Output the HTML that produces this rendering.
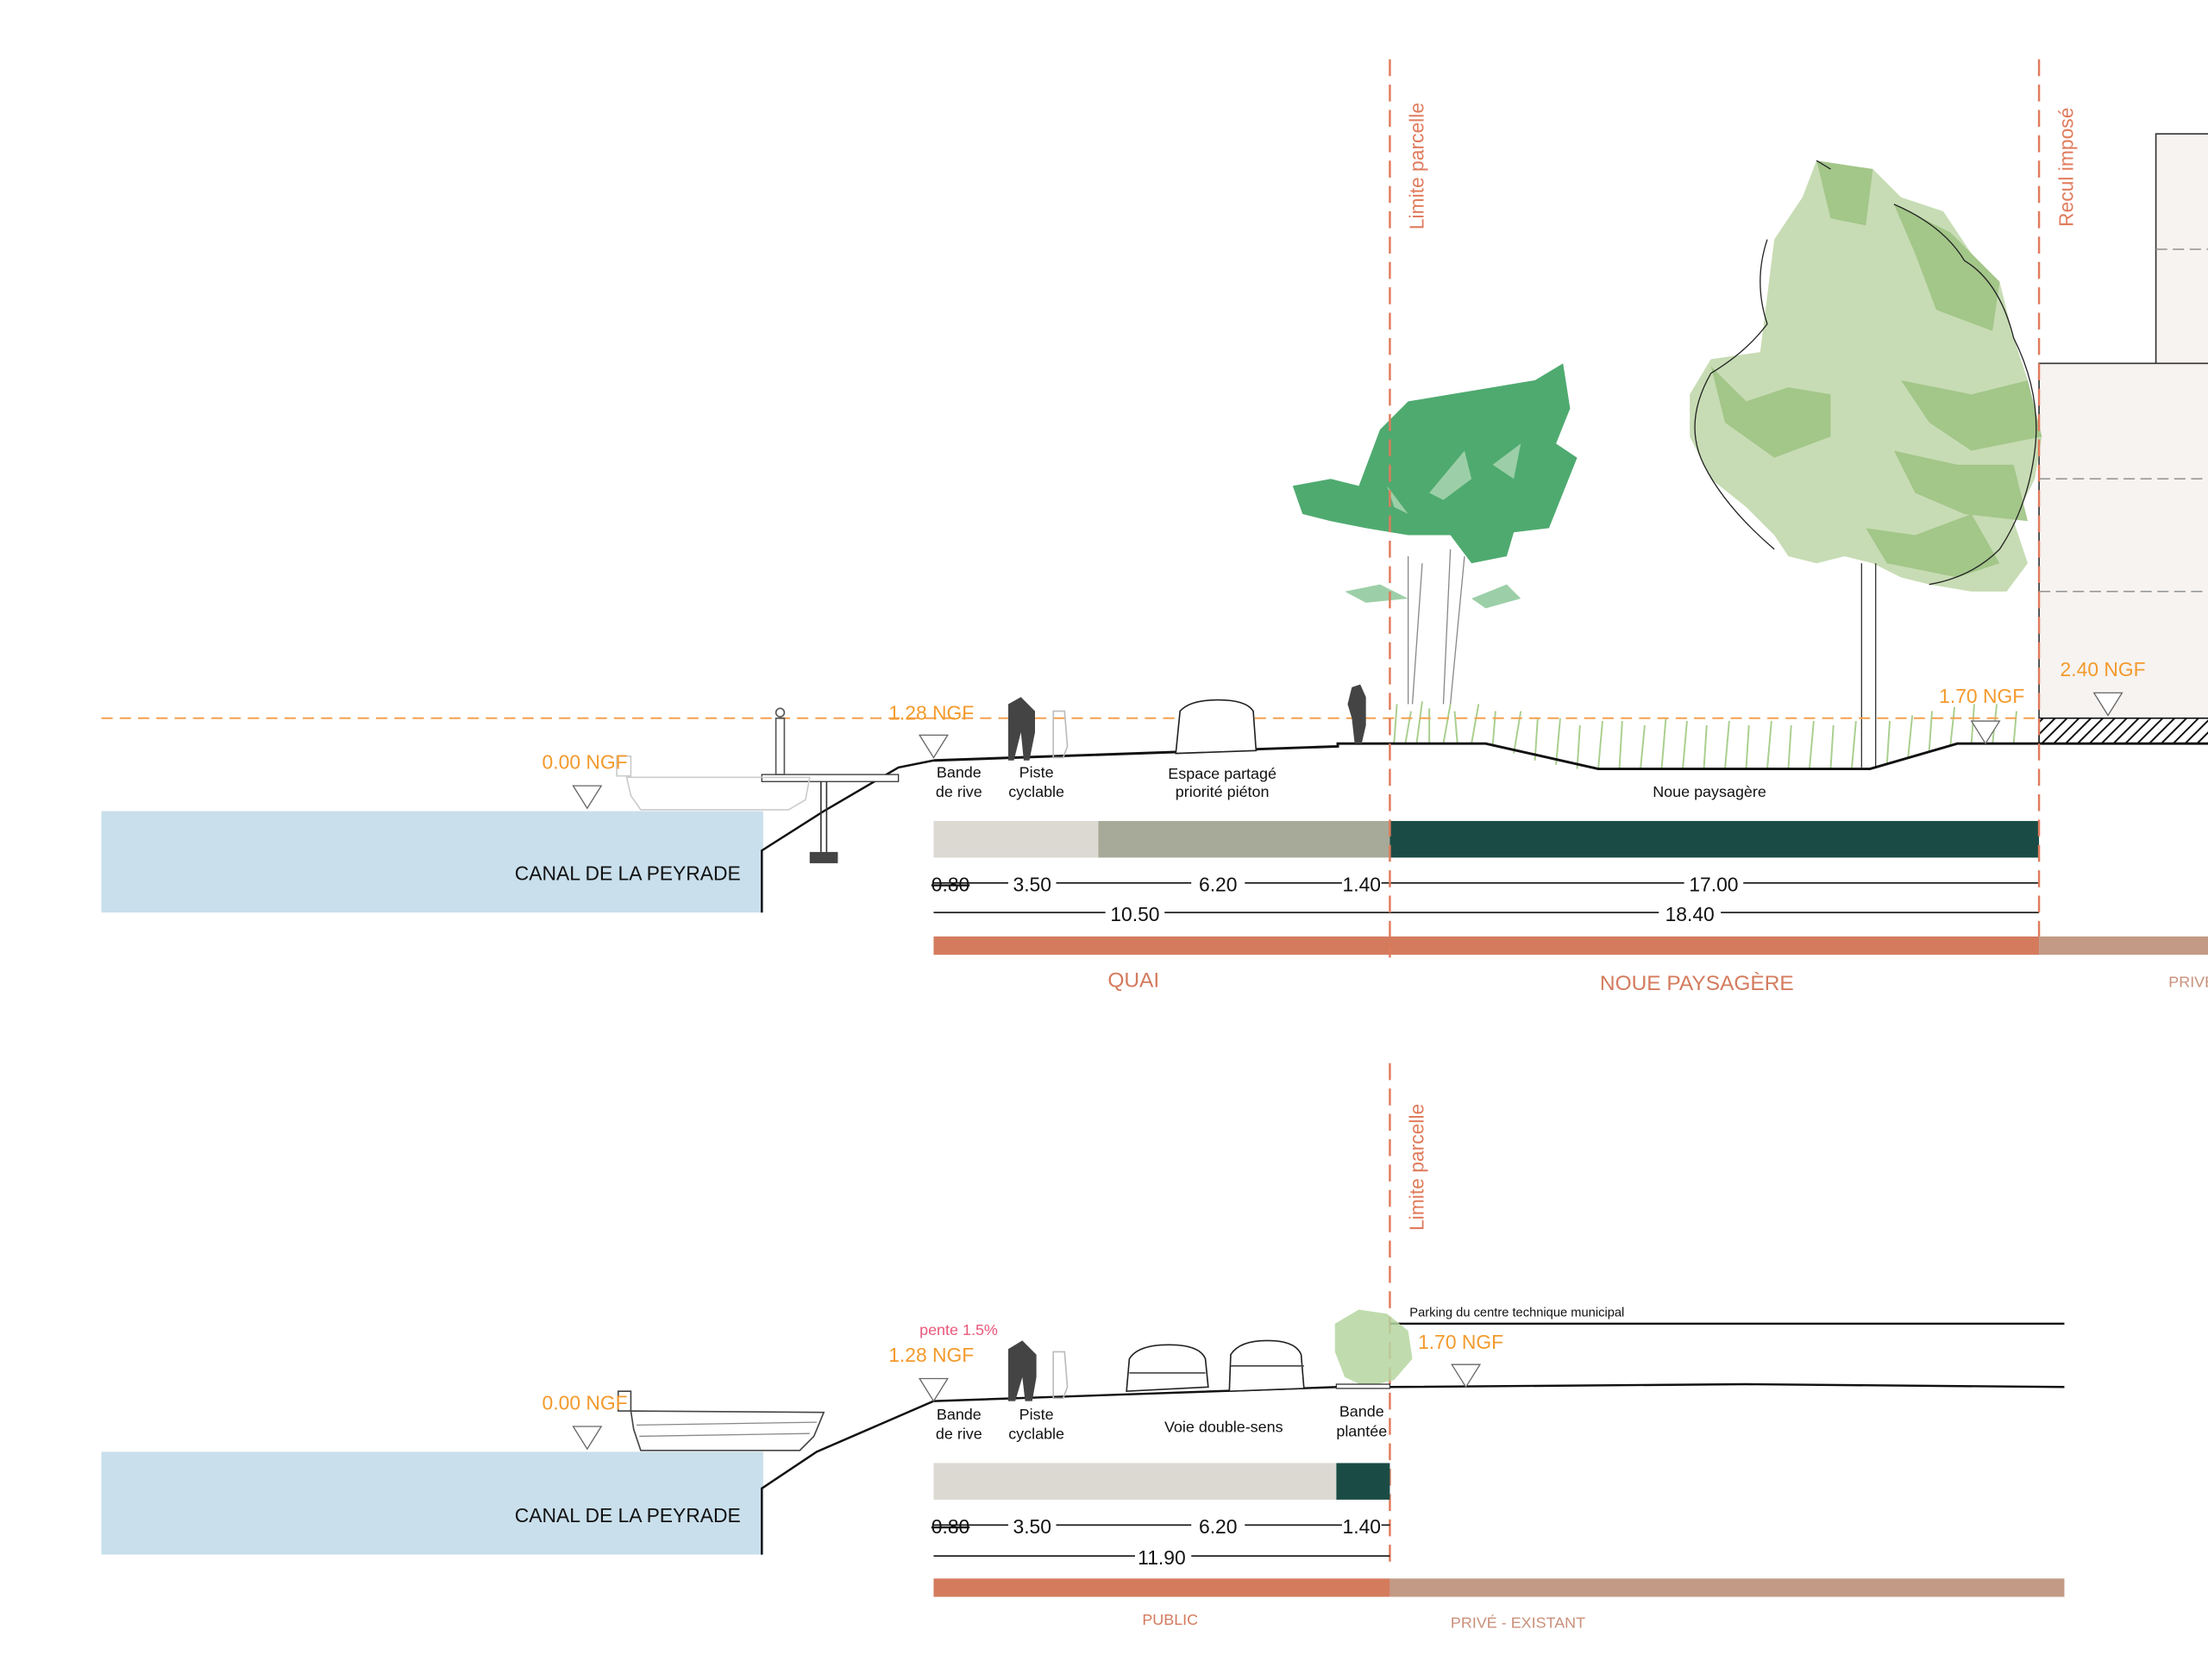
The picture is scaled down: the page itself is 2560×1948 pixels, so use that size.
<!DOCTYPE html>
<html><head><meta charset="utf-8"><style>
html,body{margin:0;padding:0;background:#fff;}
svg{display:block;}
text{font-family:"Liberation Sans",Arial,sans-serif;}
</style></head><body>
<svg width="2560" height="1948" viewBox="0 0 1568 1193" xmlns="http://www.w3.org/2000/svg">
<defs>
<pattern id="hatch" width="6" height="6" patternUnits="userSpaceOnUse" patternTransform="rotate(45)">
<rect width="6" height="6" fill="#fff"/><line x1="0" y1="0" x2="0" y2="6" stroke="#111" stroke-width="2.4"/>
</pattern>
</defs>
<rect width="1568" height="1193" fill="#fff"/>

<!-- ============ TOP SECTION ============ -->
<rect x="1531" y="95" width="40" height="164" fill="#f6f3f1" stroke="#333" stroke-width="1"/>
<rect x="1448" y="258" width="125" height="252" fill="#f6f3f1" stroke="#333" stroke-width="1"/>
<g stroke="#999" stroke-width="1" stroke-dasharray="8,4">
<line x1="1531" y1="177" x2="1568" y2="177"/>
<line x1="1448" y1="340" x2="1568" y2="340"/>
<line x1="1448" y1="420" x2="1568" y2="420"/>
</g>
<rect x="1448" y="510" width="125" height="18" fill="url(#hatch)" stroke="#111" stroke-width="1"/>

<!-- big tree -->
<path d="M1290,114 L1330,120 L1350,140 L1380,150 L1400,180 L1420,200 L1430,240 L1440,270 L1450,310 L1445,340 L1430,370 L1440,400 L1425,420 L1400,420 L1370,415 L1350,410 L1330,400 L1310,395 L1290,400 L1270,395 L1260,380 L1240,360 L1215,340 L1200,310 L1200,280 L1215,255 L1250,250 L1255,210 L1260,170 L1280,140 Z" fill="#c7dcb4"/>
<path d="M1290,114 L1330,120 L1325,160 L1300,155 Z M1345,145 L1385,165 L1420,200 L1415,235 L1375,220 L1360,180 Z M1215,260 L1240,285 L1270,275 L1300,280 L1300,310 L1260,325 L1225,300 Z M1350,270 L1400,280 L1440,270 L1450,310 L1400,320 L1370,300 Z M1345,320 L1390,330 L1430,330 L1440,370 L1395,365 L1360,350 Z M1325,375 L1360,380 L1400,365 L1420,400 L1390,410 L1340,400 Z" fill="#9fc384" opacity="0.9"/>
<path d="M1290,114 L1300,120 M1255,170 Q1245,200 1255,230 Q1240,250 1215,265 Q1195,300 1210,330 Q1225,360 1260,390 M1345,145 Q1380,160 1395,185 Q1420,200 1430,240 Q1450,280 1445,320 Q1440,360 1420,390 Q1400,410 1370,415" fill="none" stroke="#222" stroke-width="0.8"/>
<path d="M1322,400 L1322,545 M1332,400 L1332,545" stroke="#333" stroke-width="0.8" fill="none"/>

<!-- small tree -->
<path d="M918,345 L945,340 L965,345 L980,305 L1000,285 L1030,280 L1060,275 L1090,270 L1110,258 L1115,290 L1105,315 L1120,325 L1110,350 L1100,375 L1075,378 L1070,395 L1045,400 L1030,380 L1000,380 L970,375 L945,370 L925,365 Z" fill="#4faa70"/>
<path d="M1015,350 L1040,320 L1045,340 L1025,355 Z M1060,330 L1080,315 L1075,340 Z M985,345 L1000,365 L990,360 Z M955,420 L980,415 L1000,425 L970,428 Z M1045,425 L1070,415 L1080,425 L1055,432 Z" fill="#9ccfa7"/>
<path d="M1000,395 L1000,500 M1010,400 L1003,500 M1030,390 L1025,500 M1040,395 L1030,500" stroke="#888" stroke-width="0.8" fill="none"/>
<path d="M990,528 L992,500 M998,528 L1002,505 M1006,528 L1010,498 M1015,528 L1015,503 M1025,528 L1030,500 M1035,528 L1033,505 M1045,528 L1050,500 M1060,530 L1062,505 M1075,535 L1080,505 M1090,540 L1092,510 M1105,543 L1108,510 M1120,546 L1122,515 M1135,546 L1138,512 M1150,546 L1152,512 M1165,546 L1168,515 M1180,546 L1183,510 M1195,546 L1198,512 M1210,546 L1212,515 M1225,546 L1228,512 M1240,546 L1242,515 M1255,546 L1258,512 M1270,546 L1272,515 M1285,546 L1288,512 M1300,546 L1302,515 M1315,546 L1318,512 M1340,543 L1342,512 M1355,538 L1358,508 M1370,533 L1372,505 M1385,530 L1388,502 M1400,528 L1402,500 M1415,528 L1418,500 M1430,528 L1432,505" stroke="#a9cf8e" stroke-width="1.2" fill="none"/>

<line x1="72" y1="510" x2="1448" y2="510" stroke="#f5a04f" stroke-width="1.2" stroke-dasharray="8,5"/>

<rect x="72" y="576" width="470" height="72" fill="#c9dfec"/>
<text x="526" y="625" font-size="14" fill="#111" text-anchor="end">CANAL DE LA PEYRADE</text>
<polyline points="541,648 541,604 585,576 638,545 663,540" fill="none" stroke="#111" stroke-width="1.5"/>
<polyline points="663,540 950,530 950,528 962,528 962,528 1055,528 1135,546 1328,546 1390,528 1448,528 1568,528" fill="none" stroke="#111" stroke-width="1.8"/>
<rect x="541" y="550" width="97" height="5" fill="#fff" stroke="#333" stroke-width="0.8"/>
<line x1="583" y1="555" x2="583" y2="605" stroke="#333"/><line x1="587" y1="555" x2="587" y2="605" stroke="#333"/>
<rect x="575" y="605" width="20" height="8" fill="#444"/>
<path d="M445,552 L575,552 L572,568 L560,575 L455,575 L448,565 Z" fill="none" stroke="#ccc" stroke-width="1"/>
<rect x="438" y="537" width="10" height="14" fill="none" stroke="#ccc"/>
<rect x="551" y="510" width="6" height="40" fill="none" stroke="#555" stroke-width="1"/>
<circle cx="554" cy="506" r="3" fill="none" stroke="#555"/>
<path d="M716,500 L725,495 L735,505 L735,520 L731,540 L727,540 L725,520 L720,540 L716,540 L716,515 Z" fill="#444"/>
<path d="M748,505 L756,505 L758,530 L755,538 L748,538 Z" fill="none" stroke="#bbb"/>
<path d="M835,535 L838,505 Q845,497 865,497 Q885,497 890,505 L892,533 Z" fill="#fff" stroke="#222" stroke-width="1"/>
<path d="M960,488 L966,486 L970,495 L970,515 L967,528 L962,528 L960,510 L957,500 Z" fill="#444"/>

<g fill="#f39a2c" font-size="14">
<text x="385" y="546">0.00 NGF</text>
<text x="631" y="511">1.28 NGF</text>
<text x="1377" y="499">1.70 NGF</text>
<text x="1463" y="480">2.40 NGF</text>
</g>
<g fill="#fff" stroke="#666" stroke-width="0.8">
<path d="M407,558 L427,558 L417,574 Z"/>
<path d="M653,522 L673,522 L663,538 Z"/>
<path d="M1400,512 L1420,512 L1410,528 Z"/>
<path d="M1487,492 L1507,492 L1497,508 Z"/>
</g>

<g font-size="11" fill="#111" text-anchor="middle">
<text x="681" y="552">Bande</text><text x="681" y="566">de rive</text>
<text x="736" y="552">Piste</text><text x="736" y="566">cyclable</text>
<text x="868" y="553">Espace partagé</text><text x="868" y="566">priorité piéton</text>
<text x="1214" y="566">Noue paysagère</text>
</g>

<rect x="663" y="583" width="117" height="26" fill="#dcd9d3"/>
<rect x="780" y="583" width="207" height="26" fill="#a7aa98"/>
<rect x="987" y="583" width="461" height="26" fill="#1a4c45"/>

<g stroke="#111" stroke-width="1">
<line x1="663" y1="627" x2="1448" y2="627"/>
<line x1="663" y1="648" x2="1448" y2="648"/>
</g>
<g fill="#fff">
<rect x="716" y="619" width="34" height="16"/><rect x="846" y="619" width="38" height="16"/><rect x="953" y="619" width="28" height="16"/><rect x="1196" y="619" width="42" height="16"/>
<rect x="785" y="640" width="42" height="16"/><rect x="1178" y="640" width="44" height="16"/>
</g>
<g font-size="14" fill="#111" text-anchor="middle">
<text x="675" y="633" style="text-decoration:line-through">0.80</text>
<text x="733" y="633">3.50</text><text x="865" y="633">6.20</text><text x="967" y="633">1.40</text><text x="1217" y="633">17.00</text>
<text x="806" y="654">10.50</text><text x="1200" y="654">18.40</text>
</g>

<rect x="663" y="665" width="785" height="13" fill="#d47b5e"/>
<rect x="1448" y="665" width="125" height="13" fill="#c29a85"/>
<g fill="#d47b5e" font-size="15" text-anchor="middle">
<text x="805" y="701">QUAI</text>
<text x="1205" y="703">NOUE PAYSAGÈRE</text>
</g>
<text x="1540" y="701" fill="#c9907a" font-size="11">PRIVÉ</text>

<g stroke="#e07b5c" stroke-width="1.5" stroke-dasharray="12,6">
<line x1="987" y1="42" x2="987" y2="680"/>
<line x1="1448" y1="42" x2="1448" y2="665"/>
<line x1="987" y1="755" x2="987" y2="1115"/>
</g>
<g fill="#e07b5c" font-size="14">
<text transform="translate(1011,163) rotate(-90)">Limite parcelle</text>
<text transform="translate(1472,161) rotate(-90)">Recul imposé</text>
<text transform="translate(1011,874) rotate(-90)">Limite parcelle</text>
</g>

<!-- ============ BOTTOM SECTION ============ -->
<rect x="72" y="1031" width="470" height="73" fill="#c9dfec"/>
<text x="526" y="1081" font-size="14" fill="#111" text-anchor="end">CANAL DE LA PEYRADE</text>
<polyline points="541,1104 541,1057 580,1031 663,995 950,985 987,985 1240,983 1466,985" fill="none" stroke="#111" stroke-width="1.5"/>
<line x1="987" y1="940" x2="1466" y2="940" stroke="#111" stroke-width="1.5"/>
<path d="M448,1002 L585,1003 L578,1020 L568,1030 L455,1030 L450,1015 Z" fill="#fff" stroke="#444" stroke-width="1"/>
<path d="M452,1012 L580,1010 M454,1020 L575,1018" stroke="#888" stroke-width="0.8"/>
<rect x="439" y="988" width="9" height="14" fill="none" stroke="#444"/>
<path d="M716,958 L726,952 L736,962 L736,978 L733,995 L728,995 L726,978 L721,995 L716,995 L716,972 Z" fill="#444"/>
<path d="M748,960 L756,960 L758,985 L755,993 L748,993 Z" fill="none" stroke="#bbb"/>
<path d="M800,988 L802,965 Q808,955 830,955 Q852,955 856,965 L858,985 Z" fill="#fff" stroke="#222"/>
<path d="M802,975 L856,975" stroke="#444"/>
<path d="M873,988 L874,962 Q880,952 900,952 Q920,952 924,962 L926,986 Z" fill="#fff" stroke="#222"/>
<path d="M874,970 L926,970" stroke="#444"/>
<path d="M948,940 L965,930 L985,933 L1000,945 L1003,965 L990,980 L970,985 L955,978 L948,960 Z" fill="#b5d6a0" opacity="0.85"/>
<rect x="949" y="983" width="38" height="3" fill="#fff" stroke="#333" stroke-width="0.8"/>

<text x="1001" y="935" font-size="9" fill="#111">Parking du centre technique municipal</text>
<text x="653" y="948" font-size="11" fill="#e9587a">pente 1.5%</text>
<g fill="#f39a2c" font-size="14">
<text x="385" y="1001">0.00 NGF</text>
<text x="631" y="967">1.28 NGF</text>
<text x="1007" y="958">1.70 NGF</text>
</g>
<g fill="#fff" stroke="#666" stroke-width="0.8">
<path d="M407,1013 L427,1013 L417,1029 Z"/>
<path d="M653,979 L673,979 L663,995 Z"/>
<path d="M1031,969 L1051,969 L1041,985 Z"/>
</g>
<g font-size="11" fill="#111" text-anchor="middle">
<text x="681" y="1008">Bande</text><text x="681" y="1022">de rive</text>
<text x="736" y="1008">Piste</text><text x="736" y="1022">cyclable</text>
<text x="869" y="1017">Voie double-sens</text>
<text x="967" y="1006">Bande</text><text x="967" y="1020">plantée</text>
</g>
<rect x="663" y="1039" width="286" height="26" fill="#dcd9d3"/>
<rect x="949" y="1039" width="38" height="26" fill="#1a4c45"/>
<g stroke="#111" stroke-width="1">
<line x1="663" y1="1083" x2="987" y2="1083"/>
<line x1="663" y1="1105" x2="987" y2="1105"/>
</g>
<g fill="#fff">
<rect x="716" y="1075" width="34" height="16"/><rect x="846" y="1075" width="38" height="16"/><rect x="953" y="1075" width="28" height="16"/>
<rect x="806" y="1097" width="40" height="16"/>
</g>
<g font-size="14" fill="#111" text-anchor="middle">
<text x="675" y="1089" style="text-decoration:line-through">0.80</text>
<text x="733" y="1089">3.50</text><text x="865" y="1089">6.20</text><text x="967" y="1089">1.40</text>
<text x="825" y="1111">11.90</text>
</g>
<rect x="663" y="1121" width="324" height="13" fill="#d47b5e"/>
<rect x="987" y="1121" width="479" height="13" fill="#c29a85"/>
<text x="831" y="1154" font-size="11" fill="#d47b5e" text-anchor="middle">PUBLIC</text>
<text x="1078" y="1156" font-size="11" fill="#c9907a" text-anchor="middle">PRIVÉ - EXISTANT</text>
</svg>
</body></html>
